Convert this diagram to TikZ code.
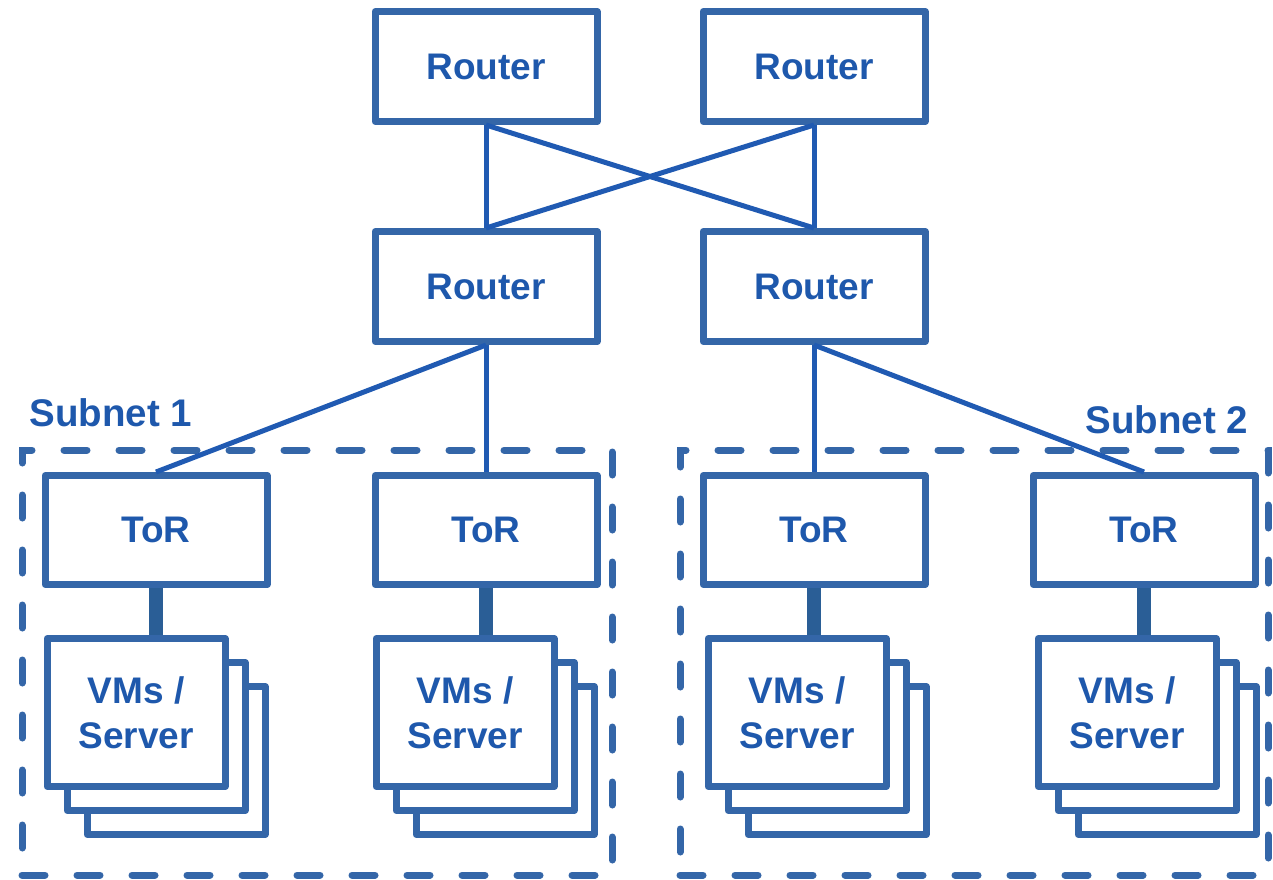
\documentclass[tikz,border=0pt]{standalone}
\usepackage{fontspec}
\setmainfont{Liberation Sans}
\usepackage{tikz}
\definecolor{boxblue}{RGB}{52,102,168}
\definecolor{textblue}{RGB}{30,88,172}
\definecolor{lineblue}{RGB}{32,90,178}
\definecolor{stubblue}{RGB}{42,94,150}

\begin{document}
\begin{tikzpicture}[x=1pt,y=-1pt,
	box/.style={draw=boxblue,line width=7pt,line join=round,fill=white,inner sep=0pt,
		text=textblue,font=\fontsize{37}{45}\selectfont\bfseries,align=center},
	router/.style={box,minimum width=222pt,minimum height=110pt},
	vmbox/.style={box,minimum width=178pt,minimum height=148pt},
	subnet/.style={draw=boxblue,line width=7pt,line cap=round,dash pattern=on 23pt off 32pt,
		inner sep=0pt},
	subnetlabel/.style={text=textblue,font=\fontsize{38.5}{40}\selectfont\bfseries},
	link/.style={draw=lineblue,line width=5pt},
	stub/.style={draw=stubblue,line width=14pt}]
	\useasboundingbox (0,0) rectangle (1273,879);

	% subnets
	\node[subnet,minimum width=590pt,minimum height=425pt] (sub1) at (317,662.5) {};
	\node[subnet,minimum width=588pt,minimum height=425pt] (sub2) at (974,662.5) {};
	\node[subnetlabel] (lab1) at (111,413) {Subnet 1};
	\node[subnetlabel] (lab2) at (1167,420) {Subnet 2};

	% routers
	\node[router] (rtl) at (486,66.5) {Router};
	\node[router] (rtr) at (814,66.5) {Router};
	\node[router] (rml) at (486,286.5) {Router};
	\node[router] (rmr) at (814,286.5) {Router};

	% racks
	\foreach \i/\tx/\vx in {1/156/136,2/486/465,3/814/797,4/1144/1127}
	{
		\node[router,minimum height=109pt] (tor\i) at (\tx,530) {ToR};
		\node[vmbox] (vmc\i) at ({\vx+40},760.5) {};
		\node[vmbox] (vmb\i) at ({\vx+20},736.5) {};
		\node[vmbox] (vm\i) at (\vx,712.5) {VMs /\\Server};
		\draw[stub] (tor\i.south) -- (tor\i.south |- vm\i.north);
	}

	% links
	\draw[link] (rtl.south) -- (rml.north);
	\draw[link] (rtl.south) -- (rmr.north);
	\draw[link] (rtr.south) -- (rml.north);
	\draw[link] (rtr.south) -- (rmr.north);
	\draw[link] (rml.south) -- (tor1.north);
	\draw[link] (rml.south) -- (tor2.north);
	\draw[link] (rmr.south) -- (tor3.north);
	\draw[link] (rmr.south) -- (tor4.north);
\end{tikzpicture}
\end{document}
